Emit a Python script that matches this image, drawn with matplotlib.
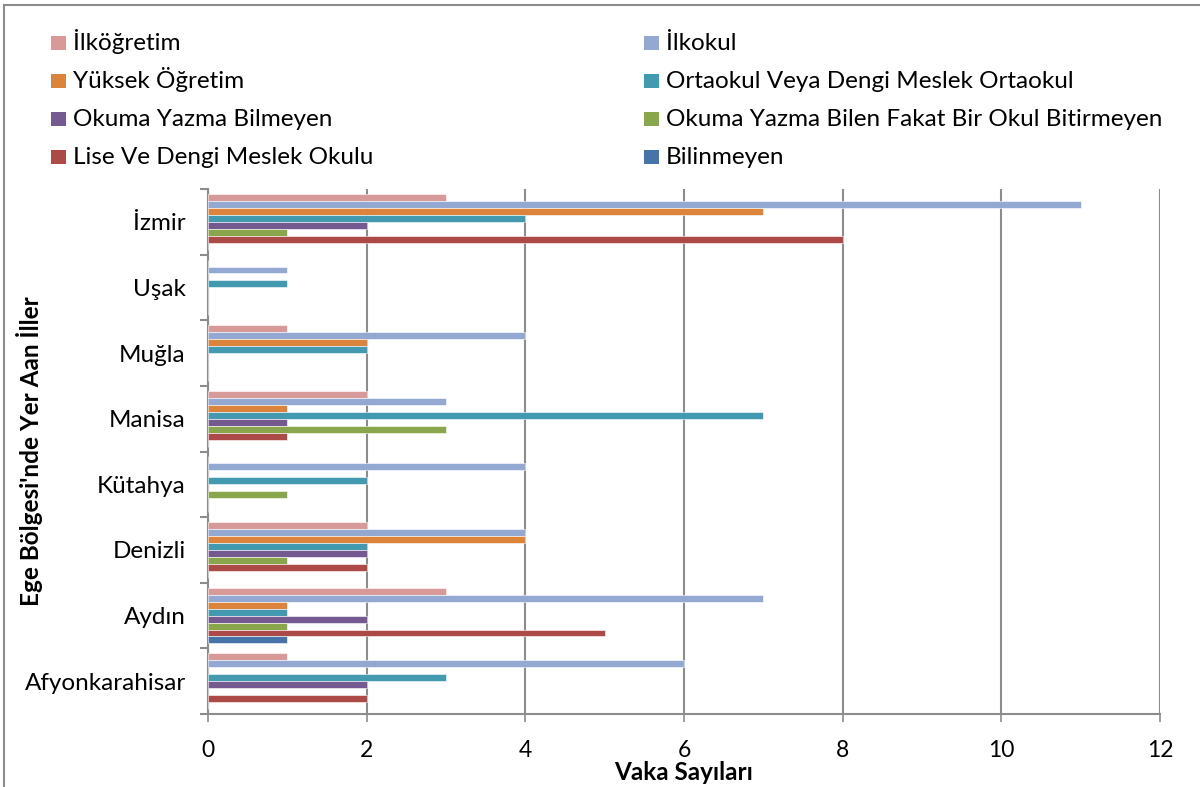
import matplotlib.pyplot as plt
import numpy as np
from matplotlib.lines import Line2D
from matplotlib.patches import Rectangle

plt.rcParams['font.family'] = ['Lato', 'DejaVu Sans']

# provinces, bottom to top as drawn
provinces = ['Afyonkarahisar', 'Aydın', 'Denizli', 'Kütahya', 'Manisa', 'Muğla', 'Uşak', 'İzmir']

# series listed in the order they appear inside each group (top to bottom)
series_names = ['İlköğretim', 'İlkokul', 'Yüksek Öğretim', 'Ortaokul Veya Dengi Meslek Ortaokul',
                'Okuma Yazma Bilmeyen', 'Okuma Yazma Bilen Fakat Bir Okul Bitirmeyen',
                'Lise Ve Dengi Meslek Okulu', 'Bilinmeyen']
colors = ['#D79A98', '#93A9D2', '#DD843C', '#4299B0', '#745A90', '#8AA64C', '#AC4A48', '#4673A8']

ilkogretim = [1, 3, 2, 0, 2, 1, 0, 3]
ilkokul = [6, 7, 4, 4, 3, 4, 1, 11]
yuksek = [0, 1, 4, 0, 1, 2, 0, 7]
ortaokul = [3, 1, 2, 2, 7, 2, 1, 4]
oy_bilmeyen = [2, 2, 2, 0, 1, 0, 0, 2]
oy_bilen = [0, 1, 1, 1, 3, 0, 0, 1]
lise = [2, 5, 2, 0, 1, 0, 0, 8]
bilinmeyen = [0, 1, 0, 0, 0, 0, 0, 0]
values = [ilkogretim, ilkokul, yuksek, ortaokul, oy_bilmeyen, oy_bilen, lise, bilinmeyen]

W, H = 1200, 787
fig = plt.figure(figsize=(W / 100, H / 100), dpi=100)
ax = fig.add_axes([208 / W, 1 - 714 / H, 952 / W, 525 / H])

n = len(series_names)
h = 0.85 / n
y = np.arange(len(provinces))
for j, (name, col, vals) in enumerate(zip(series_names, colors, values)):
    offs = 0.425 - (j + 0.5) * h
    ax.barh(y + offs, vals, height=h, color=col, edgecolor='white', linewidth=0.4, label=name, zorder=3)

ax.set_xlim(0, 12)
ax.set_ylim(-0.5, len(provinces) - 0.5)
ax.set_xticks(range(0, 13, 2))
ax.set_yticks(y)
ax.set_yticklabels(provinces)
ax.set_yticks(np.arange(-0.5, len(provinces), 1), minor=True)
ax.tick_params(axis='y', which='major', length=0, pad=16, labelsize=17.5)
ax.tick_params(axis='y', which='minor', length=6, width=1.5, color='#8c8c8c')
ax.tick_params(axis='x', length=6, width=1.2, color='#8c8c8c', labelsize=16.5, pad=13)
ax.grid(axis='x', color='#8c8c8c', linewidth=1.5, zorder=0)
for s in ['top', 'right']:
    ax.spines[s].set_visible(False)
for s in ['left', 'bottom']:
    ax.spines[s].set_color('#8c8c8c')
    ax.spines[s].set_linewidth(1.5)

ax.set_xlabel('Vaka Sayıları', fontsize=17.5, fontweight='bold', labelpad=0)
fig.text(30 / W, 1 - 451 / H, "Ege Bölgesi'nde Yer Aan İller", fontsize=17.5, fontweight='bold',
         rotation=90, ha='center', va='center')

# legend: two columns, filled row by row
col_x = [51, 644]
row_y = [42.5, 80.5, 118.5, 156.5]
for k, (name, col) in enumerate(zip(series_names, colors)):
    cx = col_x[k % 2]
    cy = row_y[k // 2]
    fig.add_artist(Rectangle((cx / W, 1 - (cy + 7) / H), 15 / W, 14 / H,
                             transform=fig.transFigure, facecolor=col, edgecolor='none'))
    fig.text((cx + 22) / W, 1 - (cy + 7) / H, name, fontsize=17.5, va='baseline', ha='left')

# chart area border
fig.add_artist(Line2D([0.003, 0.003], [0, 0.994], color='#8c8c8c', linewidth=1.5))
fig.add_artist(Line2D([0.003, 1.0], [0.994, 0.994], color='#8c8c8c', linewidth=1.5))

fig.savefig('out.png', dpi=100)
